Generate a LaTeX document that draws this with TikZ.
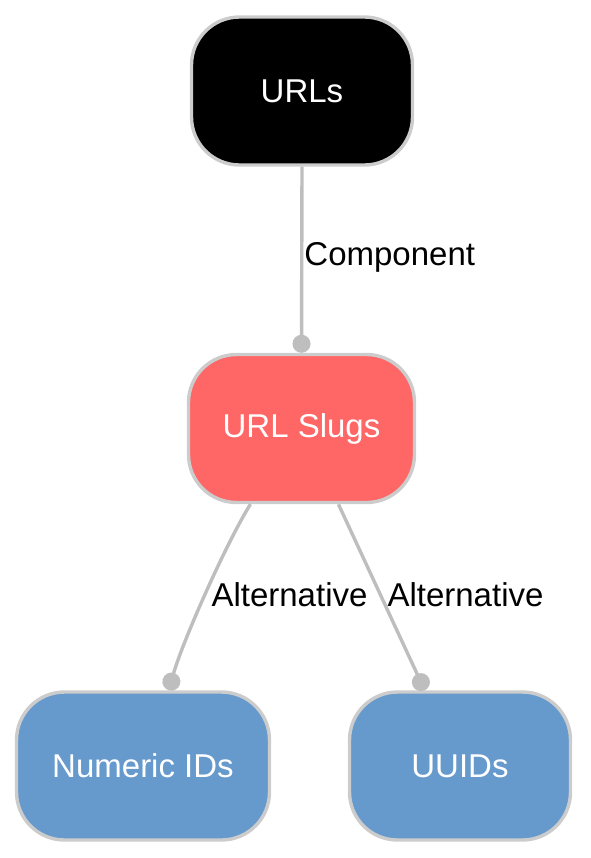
\documentclass[tikz,border=0pt]{standalone}
\usepackage{fontspec}
\setmainfont{Liberation Sans}
\usepackage{xcolor}
\usepackage{tikz}
\usetikzlibrary{arrows.meta, positioning}
\definecolor{slugred}{HTML}{FF6666}
\definecolor{altblue}{HTML}{6699CC}
\definecolor{boxgray}{HTML}{CCCCCC}
\definecolor{edgegray}{HTML}{BEBEBE}
\tikzset{
  % Riquadri arrotondati
  box/.style={rectangle,rounded corners=24pt,draw=boxgray,line width=1.7pt,
    text=white,minimum height=74pt,inner sep=0pt,
    font=\fontsize{16.5}{20}\selectfont},
  box root/.style={box,fill=black,minimum width=110.5pt},
  box slug/.style={box,fill=slugred,minimum width=113pt},
  box alt/.style={box,fill=altblue,minimum width=110.5pt},
  % Connessioni
  connect dot/.style={-{Circle[length=9pt]},line width=1.7pt,edgegray},
  lbl/.style={text=black,inner sep=0pt,font=\fontsize{16.5}{20}\selectfont}
}
\begin{document}
\begin{tikzpicture}[x=0.5pt,y=-0.5pt]
\useasboundingbox (0,0) rectangle (590,858);

% Nodes
\node[box root] (urls) at (302,91) {URLs};
\node[box slug] (slugs) at (301.5,428.5) {URL Slugs};
\node[box alt, minimum width=126.5pt] (numeric) at (143,766) {Numeric IDs};
\node[box alt] (uuids) at (460,766) {UUIDs};

% Edges
\draw[connect dot] (urls.south) -- (slugs.north)
  node[lbl, midway, anchor=west, xshift=0.5pt, yshift=1pt] (comp) {Component};
\draw[connect dot] (slugs.-124) .. controls +(-25,40) and +(12,-45) .. (numeric.71);
\draw[connect dot] (slugs.-64) -- (uuids.115);

% Edge labels
\node[lbl] (alt left) at (289.5,595) {Alternative};
\node[lbl] (alt right) at (465.5,595) {Alternative};

\end{tikzpicture}
\end{document}
